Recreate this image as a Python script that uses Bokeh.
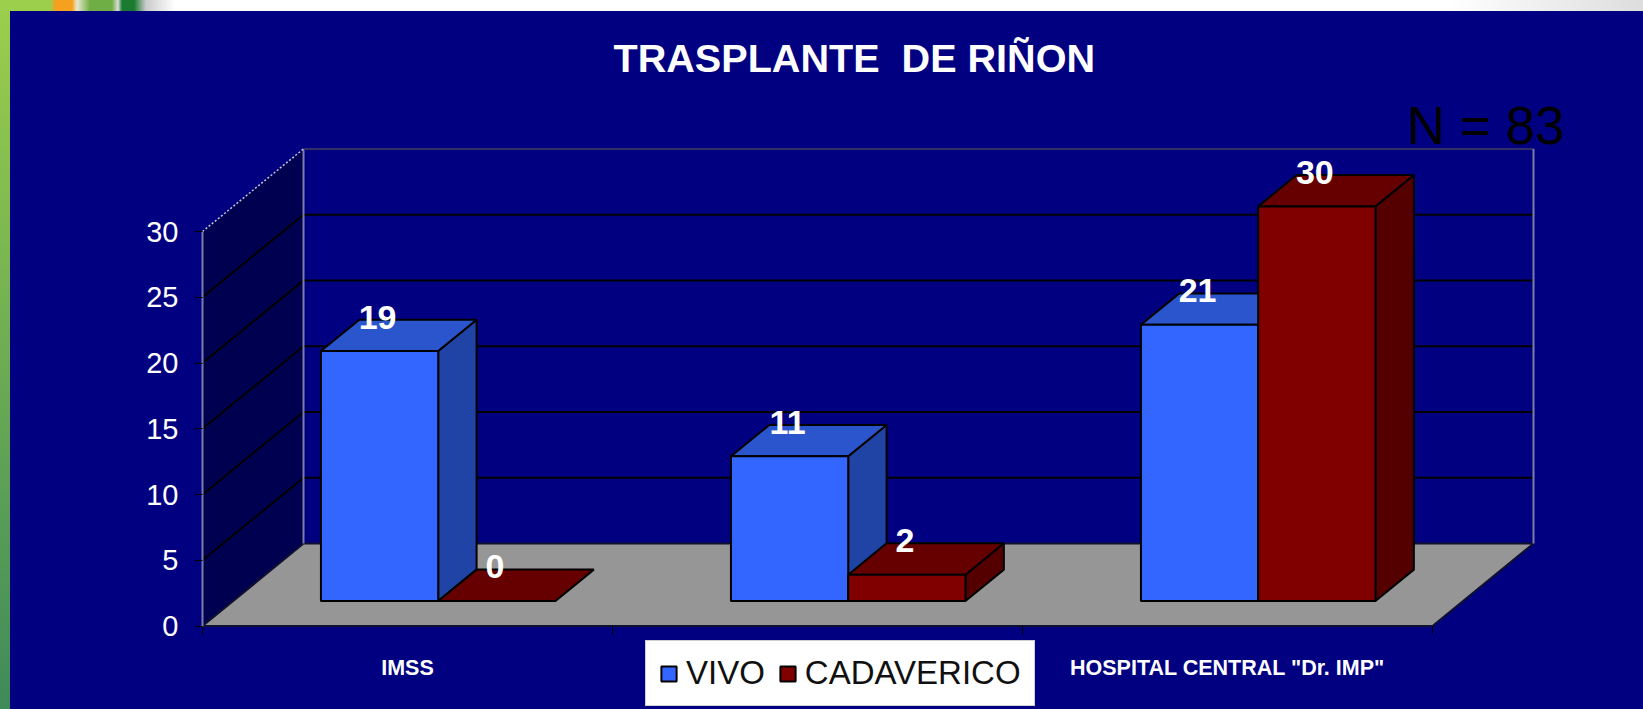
from bokeh.plotting import figure
from bokeh.embed import file_html
from bokeh.resources import INLINE
from bokeh.models import (LinearAxis, FixedTicker, Title, Label, Legend, LegendItem,
                          GlobalInlineStyleSheet, Range1d)

# ---- data ----
categories = ["IMSS", "", 'HOSPITAL CENTRAL "Dr. IMP"']
vivo = [19, 11, 21]
cadaverico = [0, 2, 30]
y_ticks = [0, 5, 10, 15, 20, 25, 30]
series_names = ["VIVO", "CADAVERICO"]
title_text = "TRASPLANTE\u00a0\u00a0DE RIÑON"
note_text = "N = 83"

# ---- 3D projection constants ----
W, H = 1643, 709
FRAME_L, FRAME_T = 10, 100          # page px of frame corner
PX_X0, PX_X3 = 202.0, 1432.0        # front floor edge
PX_Y0, PX_Y30 = 625.6, 231.0        # front axis
UX = (PX_X3 - PX_X0) / 3
UY = (PX_Y0 - PX_Y30) / 30
DX = 101 / UX                       # full depth in category units
DY = 82.6 / UY                      # full depth in value units
D0, D1 = 0.304, 0.684               # bar depth span
GAP, BW = 0.214, 0.286              # bar layout inside a category

def to_x(px):
    return (px - PX_X0) / UX

def to_y(py):
    return (PX_Y0 - py) / UY

def pr(x, v, d):
    return x + d * DX, v + d * DY

def poly(*pts):
    xy = [pr(*q) for q in pts]
    return [a for a, _ in xy], [b for _, b in xy]

p = figure(width=W, height=H, output_backend="svg", toolbar_location=None,
           x_range=Range1d(to_x(FRAME_L), to_x(W)),
           y_range=Range1d(to_y(H), to_y(FRAME_T)),
           min_border_left=FRAME_L, min_border_right=0, min_border_bottom=0,
           min_border_top=FRAME_T, x_axis_type=None, y_axis_type=None)
p.grid.visible = False
p.outline_line_color = None
p.background_fill_color = "#000080"
p.border_fill_color = None

p.stylesheets = [GlobalInlineStyleSheet(css="""
html{height:100%}
body{background:
 linear-gradient(90deg,#9ccf4c 0,#9ccf4c 50px,#f5a01e 56px,#f5a01e 72px,#e8e8d0 77px,#6fae45 90px,#6fae45 112px,#ddd 118px,#1a7a30 122px,#1a7a30 134px,#ccc 146px,#fff 175px,#fff 1450px,#ddd 1643px) left top/100% 11px no-repeat,
 linear-gradient(#9ccf4c,#3f8a5a) left top/10px 100% no-repeat,
 #000080;overflow:hidden}
""")]

title = Title(text=title_text, text_color="white", text_font="Liberation Sans",
              text_font_size="39.6px", text_font_style="bold", align="left",
              offset=603, standoff=41)
p.add_layout(title, "above")

# walls
xs, ys = poly((0, 0, 0), (0, 0, 1), (0, 30, 1), (0, 30, 0))
p.patch(xs, ys, fill_color="#000050", line_color=None)
# floor
xs, ys = poly((0, 0, 0), (3, 0, 0), (3, 0, 1), (0, 0, 1))
p.patch(xs, ys, fill_color="#969696", line_color="#101030", line_width=2)

# gridlines on back wall and left wall
for v in y_ticks[1:-1]:
    xs, ys = poly((0, v, 0), (0, v, 1), (3, v, 1))
    p.line(xs, ys, line_color="black", line_width=2)
# wall edges
xs, ys = poly((0, 0, 1), (0, 30, 1))
p.line(xs, ys, line_color="#7c7ca8", line_width=2)
xs, ys = poly((0, 30, 1), (3, 30, 1))
p.line(xs, ys, line_color="#303068", line_width=2)
xs, ys = poly((3, 30, 1), (3, 0, 1))
p.line(xs, ys, line_color="#7c7ca8", line_width=2)
xs, ys = poly((0, 30, 0), (0, 30, 1))
p.line(xs, ys, line_color="#c8c8d8", line_width=1.5, line_dash="2 2")

colors = [("#3366FF", "#2044A6", "#2A55CC"), ("#800000", "#550000", "#660000")]
legend_rs = []
for s, vals in enumerate([vivo, cadaverico]):
    front, side, top = colors[s]
    lefts, rights, tops, bottoms = [], [], [], []
    base_x, base_y = pr(0, 0, D0)
    for i, v in enumerate(vals):
        x0 = i + GAP + s * BW
        x1 = x0 + BW
        if v > 0:
            sx, sy = poly((x1, 0, D0), (x1, 0, D1), (x1, v, D1), (x1, v, D0))
            p.patch(sx, sy, fill_color=side, line_color="black", line_width=2)
        tx, ty = poly((x0, v, D0), (x1, v, D0), (x1, v, D1), (x0, v, D1))
        p.patch(tx, ty, fill_color=top, line_color="black", line_width=2)
        lefts.append(x0 + base_x)
        rights.append(x1 + base_x)
        bottoms.append(base_y)
        tops.append(v + base_y)
    r = p.quad(left=lefts, right=rights, top=tops, bottom=bottoms,
               fill_color=front, line_color="black", line_width=2)
    legend_rs.append(r)

# value labels
for s, vals in enumerate([vivo, cadaverico]):
    tx, ty, lab = [], [], []
    for i, v in enumerate(vals):
        a, b = pr(i + GAP + s * BW + BW / 2, v, D0)
        tx.append(a); ty.append(b); lab.append(str(v))
    p.text(tx, ty, text=lab, text_color="white", text_font={"value": "Liberation Sans"},
           text_font_size="34px", text_font_style="bold", text_align="center",
           text_baseline="middle", x_offset=-2, y_offset=-34)

# axes
yax = LinearAxis(fixed_location=0, ticker=FixedTicker(ticks=y_ticks), bounds=(0, 30))
yax.axis_line_color = "#7c7ca8"
yax.axis_line_width = 2
yax.major_tick_line_color = "black"
yax.major_tick_out = 8
yax.major_tick_in = 0
yax.minor_tick_line_color = None
yax.major_label_standoff = 16
yax.major_label_text_color = "white"
yax.major_label_text_font = "Liberation Sans"
yax.major_label_text_font_size = "29px"
p.add_layout(yax, "left")

# category axis: labels at the centres, tick marks at the category boundaries
centers = [i + 0.5 for i, c in enumerate(categories) if c]
bounds_t = list(range(len(categories) + 1))
xax = LinearAxis(fixed_location=0, ticker=FixedTicker(ticks=centers, minor_ticks=bounds_t))
xax.major_label_overrides = {i + 0.5: c for i, c in enumerate(categories) if c}
xax.axis_line_color = None
xax.major_tick_line_color = None
xax.minor_tick_line_color = "black"
xax.minor_tick_out = 8
xax.minor_tick_in = 0
xax.major_tick_out = 0
xax.major_tick_in = 0
xax.major_label_standoff = 22
xax.major_label_text_color = "white"
xax.major_label_text_font = "Liberation Sans"
xax.major_label_text_font_style = "bold"
xax.major_label_text_font_size = "21.5px"
p.add_layout(xax, "below")

# note
p.add_layout(Label(x=to_x(1406), y=to_y(125), text=note_text, text_color="black",
                   text_font="Liberation Sans", text_font_size="53px",
                   text_baseline="middle"))

# legend
legend = Legend(items=[LegendItem(label=n, renderers=[r]) for n, r in zip(series_names, legend_rs)],
                orientation="horizontal", location=(635, 3), margin=0, padding=13,
                spacing=13, glyph_width=19, glyph_height=19, label_standoff=8,
                label_text_font="Liberation Sans", label_text_font_size="33px",
                label_text_color="#101010", background_fill_color="white",
                background_fill_alpha=1, border_line_color="#a0a0a0")
p.add_layout(legend)

open("out.html", "w").write(file_html(p, INLINE))
